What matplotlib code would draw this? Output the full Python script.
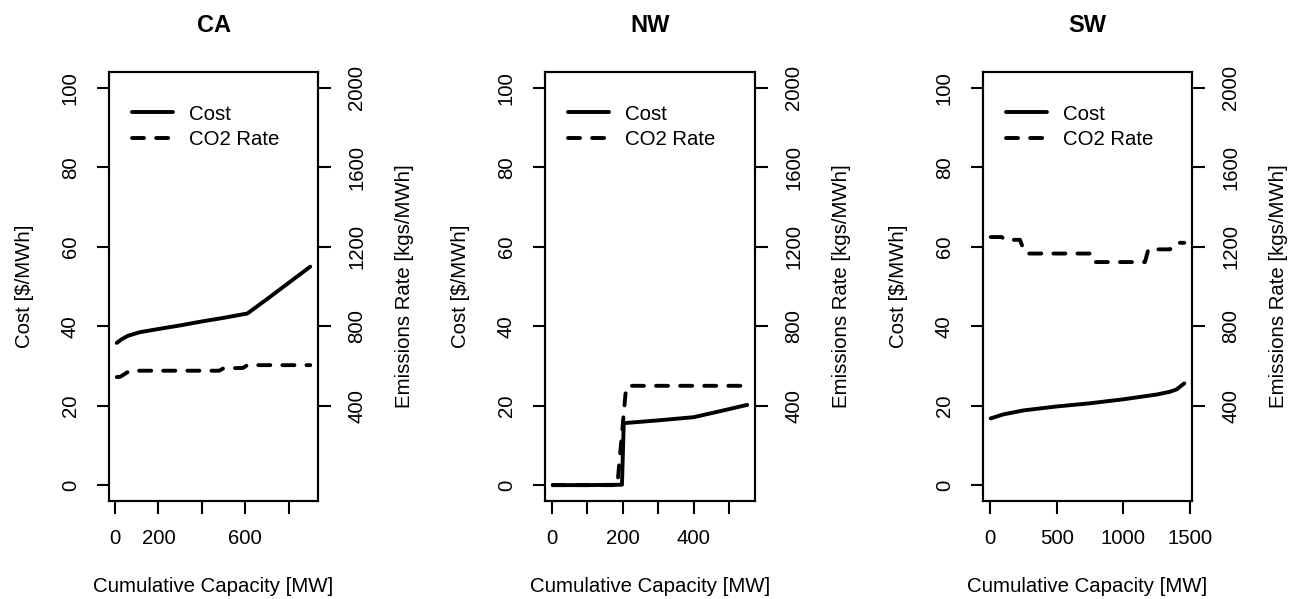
import matplotlib.pyplot as plt
from matplotlib.lines import Line2D

plt.rcParams['font.family'] = ['Liberation Sans', 'DejaVu Sans']

regions = ['CA', 'NW', 'SW']

# cost curves (capacity MW, $/MWh)
ca_cap = [8, 30, 60, 115, 200, 300, 400, 500, 610, 700, 800, 900]
ca_cost = [35.8, 36.7, 37.6, 38.5, 39.3, 40.2, 41.2, 42.1, 43.2, 46.8, 50.9, 55.0]
nw_cap = [3, 100, 198, 203, 300, 400, 474, 551]
nw_cost = [0.0, 0.0, 0.1, 15.6, 16.3, 17.1, 18.6, 20.2]
sw_cap = [6, 100, 250, 500, 750, 1000, 1250, 1350, 1400, 1430, 1457]
sw_cost = [16.8, 17.8, 18.8, 19.8, 20.6, 21.6, 22.8, 23.5, 24.1, 24.9, 25.6]

# CO2 rate curves (capacity MW, kgs/MWh)
ca_co2_cap = [8, 25, 69, 480, 500, 590, 610, 900]
ca_co2 = [544, 546, 576, 576, 588, 590, 604, 604]
nw_co2_cap = [3, 185, 190, 200, 208, 214, 551]
nw_co2 = [0, 0, 100, 300, 460, 500, 500]
sw_co2_cap = [6, 88, 112, 225, 250, 275, 762, 788, 1162, 1188, 1350, 1400, 1457]
sw_co2 = [1249, 1249, 1235, 1235, 1190, 1166, 1166, 1123, 1123, 1187, 1187, 1220, 1220]

x_ticks = {'CA': [0, 200, 400, 600, 800],
           'NW': [0, 100, 200, 300, 400, 500],
           'SW': [0, 500, 1000, 1500]}
x_labels = {'CA': ['0', '200', '', '600', ''],
            'NW': ['0', '', '200', '', '400', ''],
            'SW': ['0', '500', '1000', '1500']}

cost_data = {'CA': (ca_cap, ca_cost), 'NW': (nw_cap, nw_cost), 'SW': (sw_cap, sw_cost)}
co2_data = {'CA': (ca_co2_cap, ca_co2), 'NW': (nw_co2_cap, nw_co2), 'SW': (sw_co2_cap, sw_co2)}

W, H = 1299, 599
boxes = {'CA': (109, 318), 'NW': (545, 755), 'SW': (983, 1192)}
top, bottom = 72, 501

fs = 14.7
lw = 2.8
dash = (3.1, 3.1)

fig = plt.figure(figsize=(W / 100, H / 100), dpi=100)

for reg in regions:
    x0, x1 = boxes[reg]
    ax = fig.add_axes([x0 / W, (H - bottom) / H, (x1 - x0) / W, (bottom - top) / H])
    cap, cost = cost_data[reg]
    ccap, co2 = co2_data[reg]

    ax.plot(cap, cost, color='black', lw=lw, solid_capstyle='round')
    lo, hi = min(cap), max(cap)
    ax.set_xlim(lo - 0.04 * (hi - lo), hi + 0.04 * (hi - lo))
    ax.set_ylim(-4, 104)
    ax.set_yticks([0, 20, 40, 60, 80, 100])
    ax.set_xticks(x_ticks[reg])
    ax.set_xticklabels(x_labels[reg])
    ax.tick_params(axis='both', direction='out', length=9, width=1.5,
                   labelsize=fs, pad=11)
    ax.tick_params(axis='y', labelrotation=90, pad=12)
    for lab in ax.get_yticklabels():
        lab.set_va('center')
    ax.set_xlabel('Cumulative Capacity [MW]', fontsize=fs, labelpad=21)
    ax.set_ylabel('Cost [$/MWh]', fontsize=fs, labelpad=19)
    ax.set_title(reg, fontsize=17, fontweight='bold', pad=29)

    ax2 = ax.twinx()
    ax2.plot(ccap, co2, color='black', lw=lw, dashes=dash, dash_capstyle='round')
    ax2.set_ylim(-80, 2080)
    ax2.set_yticks([400, 800, 1200, 1600, 2000])
    ax2.tick_params(axis='y', direction='out', length=9, width=1.5,
                    labelsize=fs, pad=12, labelrotation=90)
    for lab in ax2.get_yticklabels():
        lab.set_va('center')
    ax2.set_ylabel('Emissions Rate [kgs/MWh]', fontsize=fs, labelpad=21)

    for a in (ax, ax2):
        for sp in a.spines.values():
            sp.set_linewidth(1.5)

    handles = [Line2D([], [], color='black', lw=lw, solid_capstyle='round'),
               Line2D([], [], color='black', lw=lw, dashes=dash, dash_capstyle='round')]
    ax2.legend(handles, ['Cost', 'CO2 Rate'], loc='upper left',
               bbox_to_anchor=(0.072, 0.943), frameon=False, fontsize=fs,
               handlelength=2.0, handletextpad=0.8, labelspacing=0.3,
               borderpad=0.4, borderaxespad=0)

fig.savefig('out.png', dpi=100)
